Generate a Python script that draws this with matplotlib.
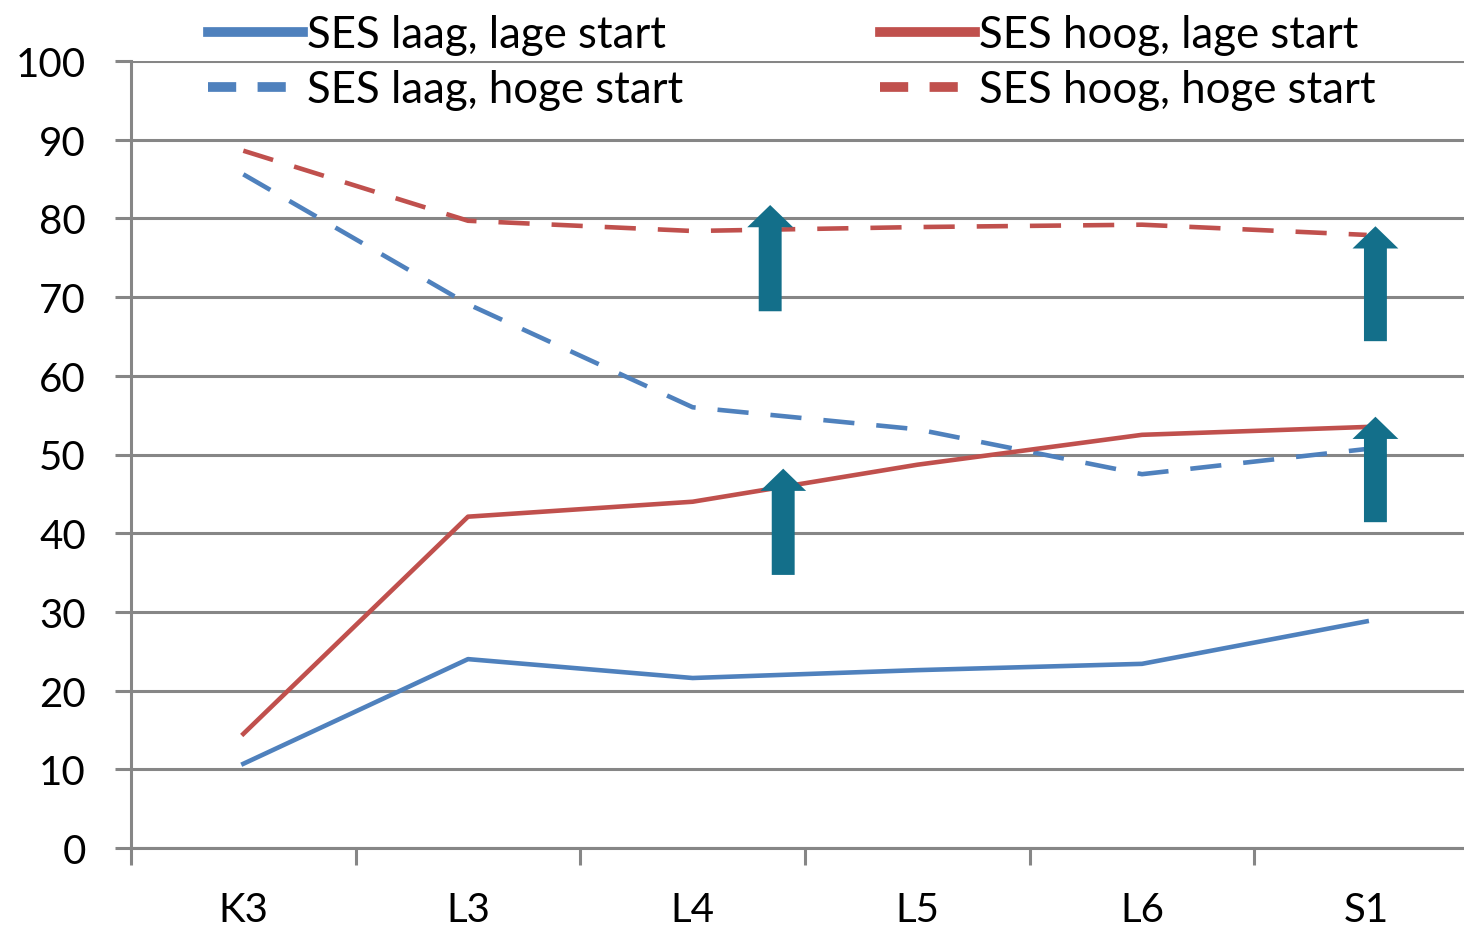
import matplotlib.pyplot as plt
from matplotlib.patches import FancyArrowPatch, ArrowStyle

plt.rcParams['font.family'] = ['Lato', 'DejaVu Sans']

categories = ['K3', 'L3', 'L4', 'L5', 'L6', 'S1']
laag_lage = [10.7, 24.0, 21.6, 22.6, 23.4, 28.8]
hoog_lage = [14.5, 42.1, 44.0, 48.7, 52.5, 53.5]
laag_hoge = [85.6, 69.1, 56.0, 53.2, 47.5, 50.7]
hoog_hoge = [88.6, 79.7, 78.4, 78.9, 79.2, 77.9]

# arrows: x position (category units), start and end value
arrow_x = [2.345, 2.403, 5.039, 5.039]
arrow_y0 = [68.2, 34.7, 64.4, 41.4]
arrow_y1 = [81.7, 48.2, 79.0, 54.8]

blue = '#4F81BD'
red = '#C0504D'
grey = '#868686'
teal = '#136F8A'
dash = (6.8, 4.8)

fig = plt.figure(figsize=(14.64, 9.28), dpi=100)
ax = fig.add_axes([131 / 1464, 79 / 928, 1348 / 1464, 787 / 928])

x = range(len(categories))
l1, = ax.plot(x, laag_lage, color=blue, lw=3.3, label='SES laag, lage start')
l2, = ax.plot(x, laag_hoge, color=blue, lw=3.3, dashes=dash, label='SES laag, hoge start')
l3, = ax.plot(x, hoog_lage, color=red, lw=3.3, label='SES hoog, lage start')
l4, = ax.plot(x, hoog_hoge, color=red, lw=3.3, dashes=dash, label='SES hoog, hoge start')

for xa, ya, yb in zip(arrow_x, arrow_y0, arrow_y1):
    arr = FancyArrowPatch((xa, ya), (xa, yb),
                          arrowstyle=ArrowStyle.Simple(head_length=16, head_width=33, tail_width=16.5),
                          mutation_scale=1, shrinkA=0, shrinkB=0,
                          facecolor=teal, edgecolor='none', zorder=5)
    ax.add_patch(arr)

ax.set_xlim(-0.5, 5.5)
ax.set_ylim(0, 100)
ax.set_yticks(range(0, 101, 10))
ax.set_xticks(list(x))
ax.set_xticklabels(categories)
ax.set_xticks([i - 0.5 for i in range(7)], minor=True)

ax.grid(axis='y', color=grey, lw=2.2)
ax.set_axisbelow(True)
for s in ['top', 'right']:
    ax.spines[s].set_visible(False)
for s in ['left', 'bottom']:
    ax.spines[s].set_color(grey)
    ax.spines[s].set_linewidth(2.2)

ax.tick_params(axis='y', length=11.5, width=2.2, color=grey, pad=21, labelsize=29)
ax.tick_params(axis='x', which='major', length=0, pad=31, labelsize=29)
ax.tick_params(axis='x', which='minor', length=12, width=2.2, color=grey)

leg_kw = dict(loc='upper left', frameon=False, fontsize=31.5, handlelength=2.17,
              handletextpad=0.1, labelspacing=0.33, borderpad=0, borderaxespad=0,
              bbox_transform=fig.transFigure)
leg1 = ax.legend(handles=[l1, l2], bbox_to_anchor=(208 / 1464, 1 - 15 / 928), **leg_kw)
ax.add_artist(leg1)
leg2 = ax.legend(handles=[l3, l4], bbox_to_anchor=(880 / 1464, 1 - 15 / 928), **leg_kw)
for leg in (leg1, leg2):
    for i, ln in enumerate(leg.get_lines()):
        ln.set_linewidth(7)
        if i == 1:
            ln.set_dashes((2.9, 2.2))

fig.savefig('out.png', dpi=100)
